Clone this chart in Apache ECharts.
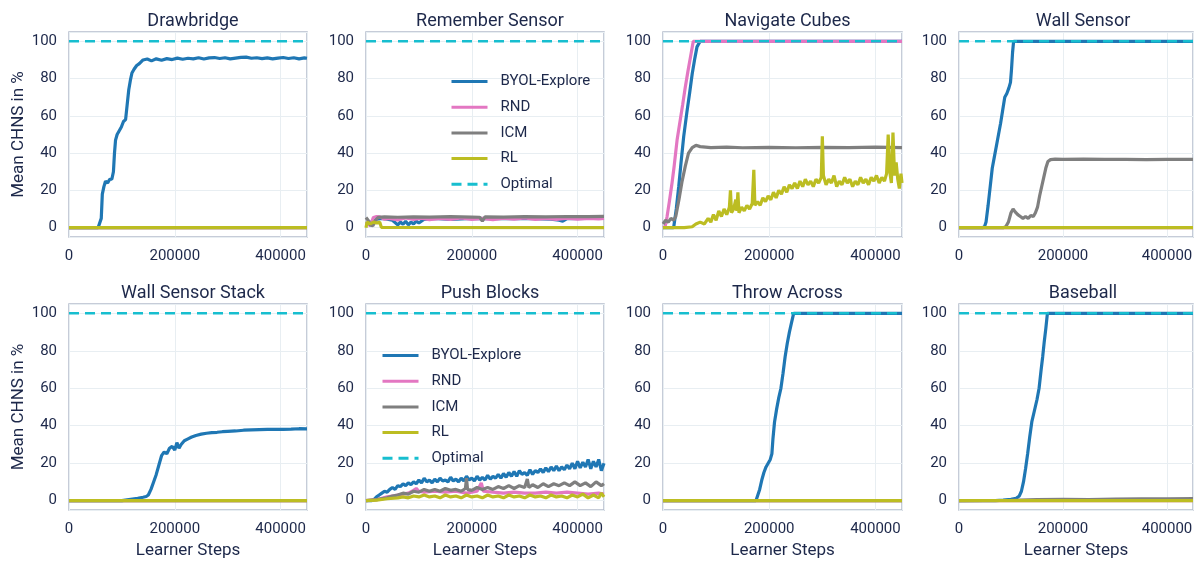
<!DOCTYPE html>
<html>
<head>
<meta charset="utf-8">
<title>CHNS per task</title>
<script src="https://cdn.jsdelivr.net/npm/echarts@6/dist/echarts.min.js"></script>
<style>
  html, body { margin: 0; padding: 0; background: #fff; }
  #chart { width: 1196px; height: 561px; }
</style>
</head>
<body>
<div id="chart"></div>
<script>
// panel titles, in grid order (row by row)
const taskNames = ['Drawbridge', 'Remember Sensor', 'Navigate Cubes', 'Wall Sensor',
  'Wall Sensor Stack', 'Push Blocks', 'Throw Across', 'Baseball'];
const seriesNames = ['BYOL-Explore', 'RND', 'ICM', 'RL', 'Optimal'];
const xTicks = [0, 200000, 400000];
const yTicks = [0, 20, 40, 60, 80, 100];

// [learner step, mean CHNS %]
const zeroLine = [[0, 0], [450000, 0]];
const optimalLine = [[0, 100], [450000, 100]];

const drawbridgeByol = [[0,0],[55000,0],[58000,0.3],[61000,5],[63000,18],[66000,22],[69000,25],[73000,24],[77000,26],[81000,26],[84000,30],[86000,40],[88000,47],[91000,50],[95000,52],[99000,54],[103000,57],[107000,58],[110000,66],[113000,74],[116000,79],[119000,83],[123000,85],[128000,87],[133000,88],[140000,90],[148000,90.5],[156000,89.5],[165000,90.6],[175000,89.8],[185000,90.7],[195000,90.2],[205000,91],[215000,90.4],[225000,90.9],[235000,90.6],[245000,91.2],[255000,90.5],[265000,91.1],[275000,91.3],[285000,90.8],[295000,91.2],[305000,90.6],[315000,91],[325000,91.4],[335000,91.5],[345000,90.9],[355000,91.2],[365000,90.7],[375000,91.1],[385000,90.6],[395000,91],[405000,91.3],[415000,90.8],[425000,91.2],[435000,90.6],[445000,91.1],[450000,90.9]];

const rememberByol = [[0,2],[10000,3],[20000,4.5],[30000,5],[40000,4.5],[50000,4],[60000,1.5],[65000,3],[70000,1.8],[75000,3.5],[80000,1.5],[85000,3],[90000,2],[95000,3.5],[100000,2.5],[110000,4.5],[130000,5],[160000,4.5],[200000,5],[250000,4.8],[300000,5],[350000,4.6],[365000,4],[372000,3.5],[380000,4.8],[420000,5],[450000,5]];
const rememberRnd = [[0,3],[8000,1],[14000,5.5],[20000,6],[26000,5.8],[35000,4.5],[45000,5],[60000,4.2],[75000,5.2],[90000,4.4],[105000,5.1],[120000,4.3],[140000,5],[160000,4.5],[180000,5.2],[200000,4.4],[220000,5],[240000,4.3],[260000,5.1],[280000,4.6],[300000,5.2],[320000,4.5],[340000,5],[360000,4.4],[380000,5.1],[400000,4.6],[420000,5],[440000,4.7],[450000,5]];
const rememberIcm = [[0,5.5],[4000,4],[8000,1.5],[13000,1],[18000,4],[23000,5.5],[35000,5.8],[60000,5.6],[90000,5.8],[120000,5.7],[160000,5.9],[200000,5.7],[215000,5.6],[220000,3.5],[225000,5.8],[260000,5.7],[300000,5.9],[340000,5.8],[380000,6],[420000,5.9],[450000,6.1]];
const rememberRl = [[0,0],[2000,3],[8000,2],[14000,3],[20000,2.5],[26000,3],[29000,0.2],[32000,0],[450000,0]];

const cubesByol = [[0,0],[20000,0],[25000,10],[29600,22],[34000,35],[39000,49],[45000,62],[50000,72],[55000,82.6],[60000,91],[64000,97],[70000,100],[450000,100]];
const cubesRnd = [[0,0],[4000,0.5],[7500,5.7],[12000,14],[17000,24],[21000,33],[26500,47],[32000,57],[37000,66],[42000,75.5],[47000,84],[52000,92],[57000,100],[450000,100]];
const cubesIcm = [[0,2],[5000,4],[10000,3],[15000,5],[20000,4],[24000,6],[30000,15],[36000,25],[42000,33],[48000,40],[55000,43],[62000,44.2],[70000,43.5],[90000,43],[120000,43.2],[150000,42.9],[200000,43.1],[250000,42.9],[300000,43.1],[350000,43],[400000,43.2],[450000,43]];
const cubesRl = [[0,0],[20000,0],[40000,0],[55000,0.5],[62000,2],[70000,3],[78000,2],[85000,5],[90000,3],[95000,7],[100000,4],[105000,9],[110000,6],[115000,10],[120000,7],[125000,11],[127000,20],[129000,8],[133000,10],[137000,15],[139000,9],[141000,19],[143000,8],[148000,11],[153000,9],[158000,12],[163000,10],[168000,13],[171000,31],[173000,12],[178000,14],[183000,12],[188000,16],[193000,14],[198000,17],[203000,15],[208000,19],[213000,16],[218000,20],[223000,18],[228000,22],[233000,19],[238000,23],[243000,21],[248000,24],[253000,21],[258000,25],[263000,22],[268000,26],[273000,23],[278000,25],[283000,22],[288000,26],[293000,24],[298000,27],[300000,49],[302000,28],[307000,23],[312000,26],[317000,24],[322000,28],[327000,22],[332000,25],[337000,23],[342000,27],[347000,24],[352000,26],[357000,22],[362000,25],[367000,23],[372000,27],[377000,24],[382000,26],[387000,23],[392000,27],[397000,25],[402000,28],[407000,24],[412000,27],[417000,25],[421000,29],[424000,50],[427000,30],[430000,24],[433000,51],[436000,28],[439000,35],[442000,26],[445000,21],[448000,29],[450000,24]];

const wallByol = [[0,0],[45000,0],[49000,0.5],[52000,3],[56000,12],[60000,22],[64000,32],[68000,38],[72000,44],[76000,50],[80000,56],[84000,63],[88000,70],[92000,72],[96000,75],[99000,78],[101000,85],[103000,94],[105000,100],[450000,100]];
const wallIcm = [[0,0],[85000,0],[90000,0.5],[95000,3],[100000,8],[104000,10],[108000,8.5],[113000,7],[118000,6],[123000,5],[128000,6],[133000,5],[138000,6.5],[143000,6],[147000,8],[151000,11],[155000,17],[159000,22],[163000,27],[167000,32],[171000,35.5],[176000,36.5],[185000,36.8],[200000,36.6],[240000,36.8],[280000,36.6],[320000,36.7],[360000,36.5],[400000,36.7],[450000,36.6]];

const stackByol = [[0,0],[100000,0],[110000,0.4],[120000,0.8],[130000,1.2],[140000,1.8],[146000,2.2],[150000,3],[155000,6],[160000,10],[165000,14],[170000,19],[175000,24],[180000,26],[185000,25],[190000,28],[195000,29],[200000,27],[204000,31],[208000,28],[212000,30],[218000,32],[225000,33],[232000,34],[240000,34.8],[250000,35.5],[260000,36],[270000,36.3],[280000,36.5],[290000,36.8],[300000,37],[315000,37.2],[330000,37.6],[345000,37.8],[360000,37.9],[375000,38],[390000,38.1],[405000,38.1],[420000,38.2],[435000,38.4],[450000,38.3]];

const pushByol = [[0,0],[10000,0],[15000,0.5],[20000,2],[25000,3],[30000,4],[35000,5],[40000,4.5],[45000,6],[50000,7],[55000,6],[60000,8],[65000,7.5],[70000,9],[75000,8],[80000,9.5],[85000,8.5],[90000,10],[95000,9],[100000,11],[105000,9.5],[110000,12],[115000,10],[120000,11],[125000,9.5],[130000,11.5],[135000,10],[140000,12],[145000,10.5],[150000,11],[155000,10],[160000,12.5],[165000,10.5],[170000,11.5],[175000,10],[180000,12],[185000,10.5],[190000,13],[195000,11],[200000,12],[205000,10.5],[210000,13],[215000,11],[220000,12.5],[225000,11],[230000,13.5],[235000,11.5],[240000,13],[245000,12],[250000,14],[255000,12],[260000,14.5],[265000,12.5],[270000,15],[275000,13],[280000,15.5],[285000,13],[290000,16],[295000,14],[300000,15],[305000,13.5],[310000,16.5],[315000,14],[320000,16],[325000,15],[330000,17],[335000,15],[340000,17.5],[345000,15.5],[350000,18],[355000,16],[360000,18.5],[365000,16],[370000,18],[375000,16.5],[380000,19],[385000,17],[390000,20],[395000,17],[400000,21],[405000,17.5],[410000,20.5],[415000,18],[420000,22],[425000,17],[430000,21],[435000,18],[440000,22],[445000,16],[450000,20]];
const pushRnd = [[0,0],[20000,0.5],[40000,2],[50000,2.5],[60000,3],[70000,3.5],[80000,4],[90000,5.5],[95000,6.5],[100000,5],[110000,4.5],[130000,5],[150000,4.5],[170000,5],[190000,4],[210000,5],[218000,9.5],[222000,5],[240000,4.5],[260000,4],[280000,4.5],[300000,4],[320000,4],[340000,4.5],[360000,4],[380000,4.5],[400000,4],[420000,3.5],[440000,4],[450000,3.5]];
const pushIcm = [[0,0],[20000,0.5],[40000,1.5],[50000,2.5],[60000,3],[70000,4],[80000,3.5],[90000,5],[100000,4.5],[110000,6],[120000,5],[130000,6],[140000,5],[150000,6.5],[160000,5.5],[170000,6],[180000,5],[188000,6.5],[190000,12],[192000,6],[200000,5.5],[210000,7],[220000,6],[230000,7],[240000,6],[250000,7.5],[260000,6.5],[270000,8],[280000,6.5],[290000,8],[300000,7],[305000,11.5],[308000,7],[315000,8.5],[325000,7],[335000,9],[345000,7.5],[355000,9],[365000,8],[375000,9.5],[385000,8],[395000,10],[405000,8],[415000,9.5],[425000,7.5],[435000,10],[445000,8],[450000,9]];
const pushRl = [[0,0],[20000,0.3],[40000,1],[60000,1.5],[70000,2],[80000,1.5],[90000,2.5],[100000,2],[110000,3],[120000,2],[130000,2.5],[140000,1.5],[150000,3],[160000,2],[170000,2.5],[180000,1.5],[190000,3],[200000,2],[210000,2.5],[220000,1.5],[230000,3],[240000,2],[250000,2.5],[260000,1.5],[270000,3],[280000,2],[290000,2.5],[300000,1.5],[310000,3],[320000,2],[330000,2.5],[340000,1.5],[350000,3],[360000,2],[370000,2.5],[380000,1.5],[390000,3],[400000,2],[410000,3.5],[420000,1.5],[430000,3],[440000,1.5],[445000,4],[450000,2]];

const throwByol = [[0,0],[175000,0],[178000,0.5],[182000,6],[186000,11],[190000,15],[194000,18],[198000,20],[202000,22],[205000,25],[207000,33],[210000,42],[214000,49],[218000,55],[222000,60],[226000,68],[230000,77],[234000,84],[238000,90],[242000,95],[246000,100],[450000,100]];

const baseballByol = [[0,0],[70000,0],[85000,0.3],[100000,0.7],[110000,1.3],[116000,2.5],[120000,5],[124000,10],[128000,17],[132000,25],[136000,34],[140000,42],[145000,48],[150000,54],[154000,60],[158000,70],[161000,77],[164000,85],[167000,92],[170000,100],[450000,100]];
const baseballIcm = [[0,0],[100000,0.2],[150000,0.5],[200000,0.7],[250000,0.6],[300000,0.8],[350000,0.9],[400000,1],[450000,1.1]];

// per panel: byol, rnd, icm, rl
const panelData = [
  [drawbridgeByol, zeroLine, zeroLine, zeroLine],
  [rememberByol, rememberRnd, rememberIcm, rememberRl],
  [cubesByol, cubesRnd, cubesIcm, cubesRl],
  [wallByol, zeroLine, wallIcm, zeroLine],
  [stackByol, zeroLine, zeroLine, zeroLine],
  [pushByol, pushRnd, pushIcm, pushRl],
  [throwByol, zeroLine, zeroLine, zeroLine],
  [baseballByol, zeroLine, baseballIcm, zeroLine]
];

const colors = ['#1f77b4', '#e377c2', '#7f7f7f', '#bcbd22', '#17becf'];
const textColor = '#1d284a';
const fontFamily = "'Roboto', sans-serif";

const lefts = [69, 366, 663, 959];
const widths = [238, 238, 239, 238];
const tops = [32, 304];
const heights = [205, 206];

const myChart = echarts.init(document.getElementById('chart'), null, { renderer: 'canvas' });

let grids = [], titles = [], xAxes = [], yAxes = [], series = [];
taskNames.forEach((name, i) => {
  const col = i % 4, row = Math.floor(i / 4);
  grids.push({
    left: lefts[col], top: tops[row], width: widths[col], height: heights[row],
    show: true, borderColor: '#b4bccb', borderWidth: 1.5, containLabel: false
  });
  titles.push({
    text: name,
    left: lefts[col] + widths[col] / 2, top: row === 0 ? 7 : 279,
    textAlign: 'center',
    textStyle: { fontFamily, fontSize: 18, fontWeight: 'normal', color: textColor }
  });
  xAxes.push({
    type: 'value', gridIndex: i, min: 0, max: 450000, interval: 200000,
    name: row === 1 ? 'Learner Steps' : '',
    nameLocation: 'middle', nameGap: 32,
    nameTextStyle: { fontFamily, fontSize: 17, color: textColor },
    axisLine: { show: false }, axisTick: { show: false },
    axisLabel: {
      fontFamily, fontSize: 15, color: textColor, margin: 12,
      formatter: v => xTicks.includes(v) ? String(v) : ''
    },
    splitLine: { show: true, lineStyle: { color: '#e8eef2', width: 1 } }
  });
  yAxes.push({
    type: 'value', gridIndex: i, min: -5, max: 105, splitNumber: 5,
    name: col === 0 ? 'Mean CHNS in %' : '',
    nameLocation: 'middle', nameGap: 42, nameRotate: 90,
    nameTextStyle: { fontFamily, fontSize: 17, color: textColor },
    axisLine: { show: false }, axisTick: { show: false },
    axisLabel: {
      fontFamily, fontSize: 15, color: textColor, margin: 12,
      formatter: v => yTicks.includes(v) ? String(v) : ''
    },
    splitLine: { show: true, lineStyle: { color: '#e8eef2', width: 1 } }
  });
  const lines = panelData[i].concat([optimalLine]);
  lines.forEach((d, k) => {
    series.push({
      name: seriesNames[k], type: 'line', xAxisIndex: i, yAxisIndex: i,
      data: d, symbol: 'none', showSymbol: false, clip: true,
      color: colors[k],
      lineStyle: k === 4
        ? { color: colors[k], width: 2.5, type: [10, 6] }
        : { color: colors[k], width: 3.2 },
      emphasis: { disabled: true },
      z: 2 + k
    });
  });
});

const legendBase = {
  orient: 'vertical', itemWidth: 36, itemHeight: 14, itemGap: 10.7, padding: 0,
  selectedMode: false, data: seriesNames,
  itemStyle: { opacity: 0 },
  lineStyle: { width: 3 },
  textStyle: { fontFamily, fontSize: 15, color: textColor, padding: [0, 0, 0, 8] }
};

myChart.setOption({
  animation: false,
  backgroundColor: '#ffffff',
  title: titles,
  legend: [
    Object.assign({}, legendBase, { left: 450, top: 74 }),
    Object.assign({}, legendBase, { left: 381, top: 348 })
  ],
  grid: grids,
  xAxis: xAxes,
  yAxis: yAxes,
  series: series
});

window.addEventListener('resize', () => {
  myChart.resize();
});
</script>
</body>
</html>
